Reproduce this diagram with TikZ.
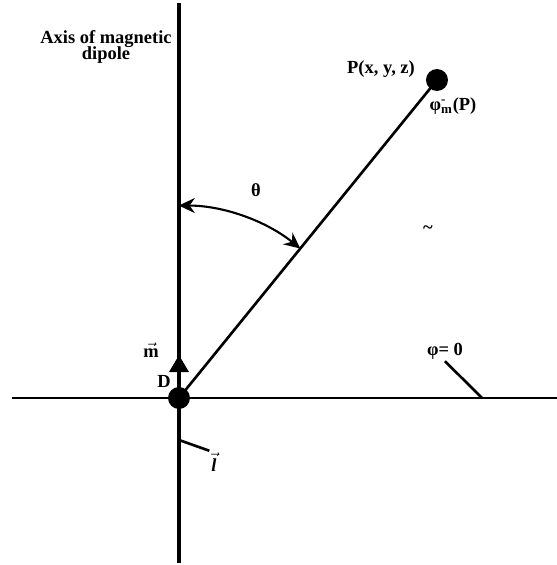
\documentclass[tikz,border=0pt]{standalone}
\usepackage{fontspec}
\setmainfont{Liberation Serif}
\usetikzlibrary{arrows, arrows.meta, positioning, calc}

\begin{document}
\begin{tikzpicture}[x=0.02cm, y=-0.02cm, font=\bfseries\fontsize{10.5}{12}\selectfont]
    \tikzstyle{dot} = [circle, fill=black, inner sep=0pt, minimum size=0.44cm]
    \tikzstyle{label} = [inner sep=1pt]
    \tikzstyle{axis} = [line width=1.9pt]
    \tikzstyle{line} = [line width=1.5pt]
    \tikzstyle{arrow} = [line width=1.2pt,<->,>={Stealth[length=0.32cm,width=0.3cm]}]

    \useasboundingbox (0,0) rectangle (557,565);

    % axes
    \coordinate (top) at (179,3);
    \coordinate (bottom) at (179,563);
    \coordinate (left) at (12,398);
    \coordinate (right) at (557,398);
    \draw [axis] (top) -- (bottom);
    \draw [line] (left) -- (right);

    \node (D) [dot] at (179,398) {};
    \node (P) [dot] at (437,80) {};
    \draw [line] (D.center) -- (P.center);

    % dipole moment
    \coordinate (mtip) at (179,355);
    \draw [axis, -{Triangle[length=0.34cm,width=0.38cm]}] (D.center) -- (mtip);
    \node (m) [label] at (151,350) {\(\vec{\textbf{m}}\)};
    \node (Dlabel) [label] at (164,381) {D};

    % angle theta
    \coordinate (thA) at ($(D)!0.47!(P)$);
    \draw [arrow] (thA) arc[start angle=51, end angle=90, radius=3.86cm];
    \node (theta) [label] at (256,190) {θ};

    % labels
    \node (axislabel) [label, align=center] at (106,47) {Axis of magnetic\\[-3pt]dipole};
    \node (Plabel) [label] at (381,69) {P(x, y, z)};
    \node (philabel) [label] at (453,106) {φ\rlap{\textsuperscript{-}}\textsubscript{m}(P)};
    \node (tilde) [label] at (428,230) {\textasciitilde};

    \node (phi0) [label] at (445,351) {φ= 0};
    \coordinate (phiend) at (482,398);
    \draw [line] (phi0.south) -- (phiend);

    \coordinate (lstart) at (179,440);
    \node (lvec) [label] at (214,462) {\(\vec{\textbf{\textit{l}}}\)};
    \draw [line] (lstart) -- (lvec.north west);
\end{tikzpicture}
\end{document}
